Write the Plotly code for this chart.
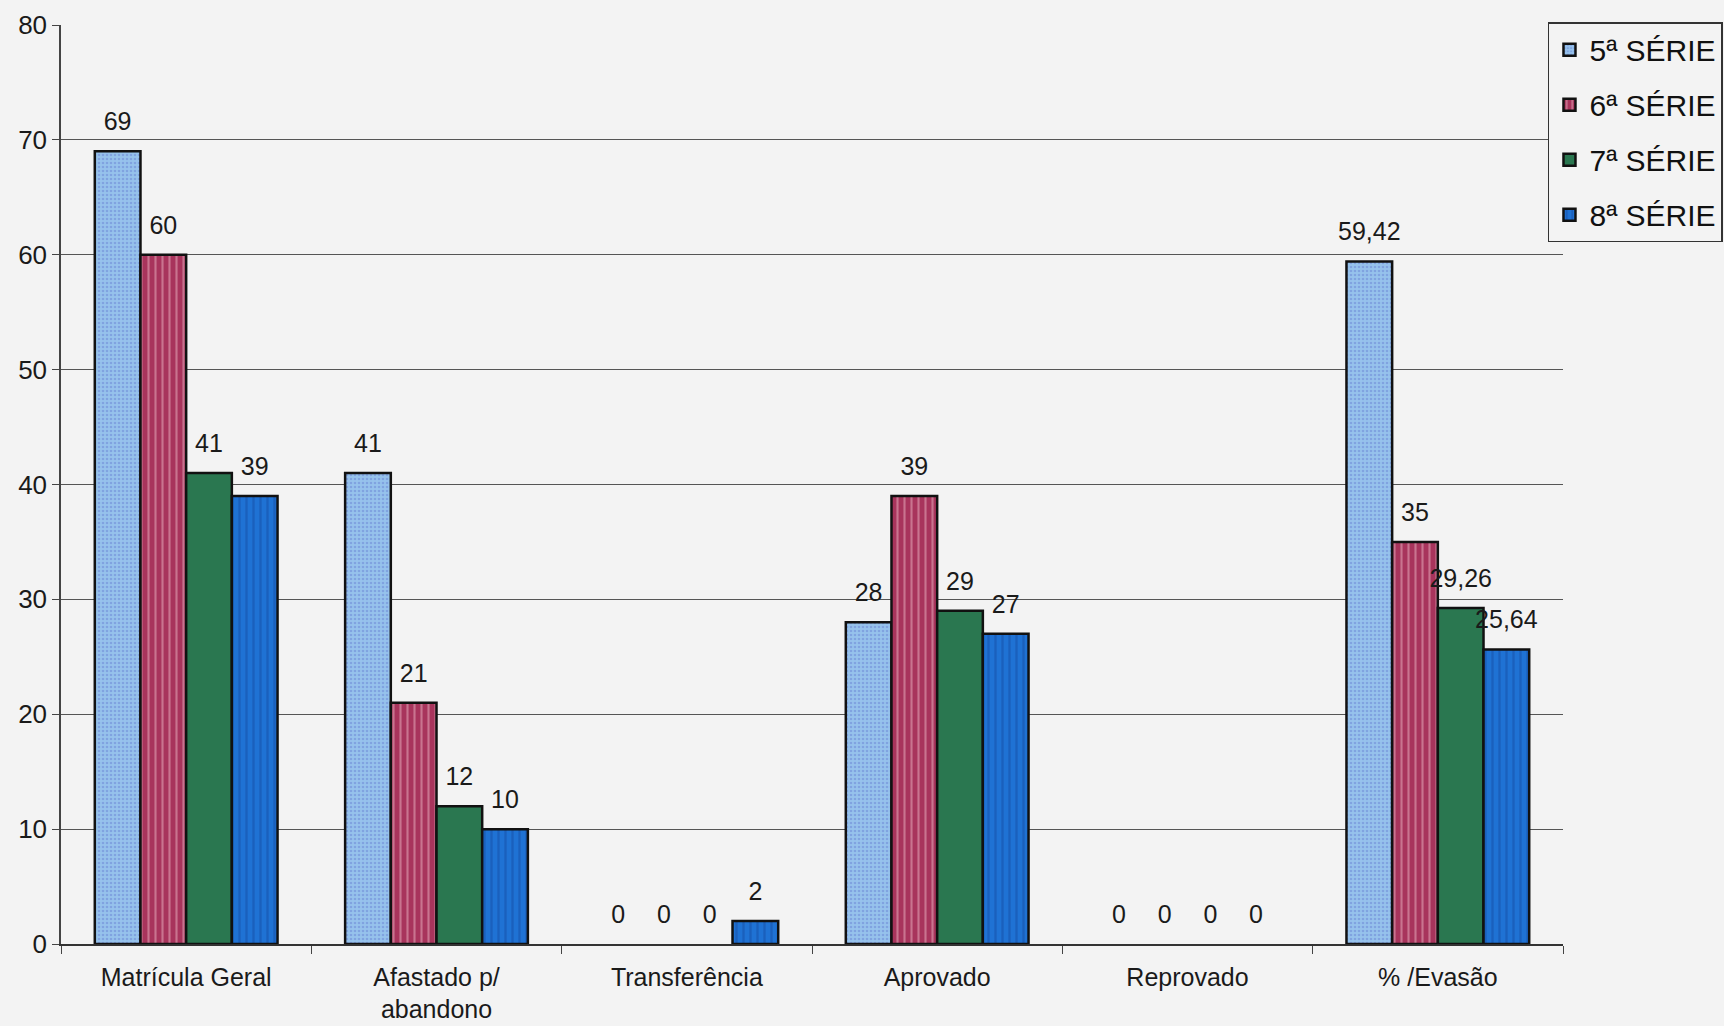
import plotly.graph_objects as go

categories = ["Matrícula Geral", "Afastado p/<br>abandono", "Transferência",
              "Aprovado", "Reprovado", "% /Evasão"]
series_names = ["5ª SÉRIE", "6ª SÉRIE", "7ª SÉRIE", "8ª SÉRIE"]
serie5 = [69, 41, 0, 28, 0, 59.42]
serie6 = [60, 21, 0, 39, 0, 35]
serie7 = [41, 12, 0, 29, 0, 29.26]
serie8 = [39, 10, 2, 27, 0, 25.64]
y_ticks = [0, 10, 20, 30, 40, 50, 60, 70, 80]

styles = [
    dict(bg="#96C2EC", fg="#6A84D4", shape=".", size=4, solidity=0.35),
    dict(bg="#A8345C", fg="#E9B4C2", shape="|", size=7, solidity=0.3),
    dict(bg="#2A7750", fg="#2A7750", shape="", size=6, solidity=0.2),
    dict(bg="#1F72D4", fg="#154EA6", shape="|", size=7, solidity=0.35),
]

FONT = "Arial, Liberation Sans"

def fmt(v):
    s = f"{v:.2f}".rstrip("0").rstrip(".")
    return s.replace(".", ",")

fig = go.Figure()
for i, (name, vals, st) in enumerate(zip(series_names, [serie5, serie6, serie7, serie8], styles)):
    grp = f"g{i}"
    fig.add_trace(go.Bar(
        x=categories, y=vals, name=name, offsetgroup=grp, legendgroup=grp,
        marker=dict(color=st["bg"],
                    line=dict(color="#111111", width=[0 if v == 0 else 2.5 for v in vals]),
                    pattern=dict(shape=st["shape"], fgcolor=st["fg"], bgcolor=st["bg"],
                                 size=st["size"], solidity=st["solidity"])),
    ))
    # value labels, lifted a little above each bar top
    fig.add_trace(go.Scatter(
        x=categories, y=vals, offsetgroup=grp, legendgroup=grp, showlegend=False,
        mode="markers+text", text=[fmt(v) for v in vals], textposition="top center",
        marker=dict(size=22, opacity=0), cliponaxis=False, hoverinfo="skip",
        textfont=dict(size=25, color="#1a1a1a", family=FONT),
    ))

fig.update_layout(
    width=1724, height=1026,
    margin=dict(l=61, r=161, t=25, b=82, autoexpand=False),
    paper_bgcolor="#F3F3F3", plot_bgcolor="#F3F3F3",
    barmode="group", bargap=0.27, bargroupgap=0, scattermode="group",
    font=dict(family=FONT, size=25, color="#1a1a1a"),
    showlegend=True,
    legend=dict(x=0.99, y=1.003, xanchor="left", yanchor="top",
                bgcolor="#F3F3F3", bordercolor="#333333", borderwidth=1.5,
                font=dict(size=30, color="#111111"), itemwidth=30,
                tracegroupgap=13),
    xaxis=dict(showline=True, linecolor="#333333", linewidth=1.5,
               ticks="outside", tickson="boundaries", ticklen=8,
               tickcolor="#444444", showgrid=False, ticklabelstandoff=10,
               automargin=False, tickfont=dict(size=25)),
    yaxis=dict(range=[0, 80], tickvals=y_ticks, showline=True, linecolor="#444444",
               linewidth=1.5, ticks="outside", ticklen=7, tickcolor="#444444",
               gridcolor="#555555", gridwidth=1, zeroline=False,
               automargin=False, tickfont=dict(size=26)),
)

fig.write_html("out.html")
